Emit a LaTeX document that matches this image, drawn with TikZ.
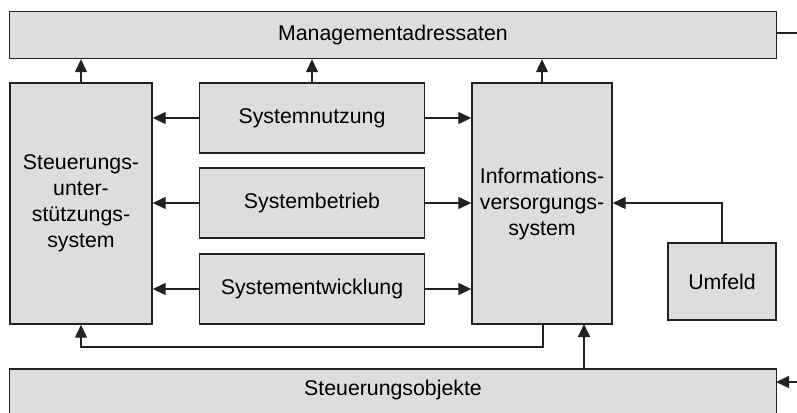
\documentclass[tikz,border=0pt]{standalone}
\usepackage{fontspec}
\setmainfont{Liberation Sans}
\usetikzlibrary{arrows.meta}
\definecolor{boxfill}{HTML}{DCDDDF}
\definecolor{linec}{HTML}{222222}
\tikzset{
  blk/.style={draw=linec, fill=boxfill, line width=1.4pt, inner sep=0pt, align=center,
    font=\fontsize{21.3}{26}\selectfont},
  conn/.style={draw=linec, line width=1.2pt, -{Triangle[length=13pt,width=12pt]}},
  plain/.style={draw=linec, line width=1.2pt}
}
\begin{document}
\begin{tikzpicture}[x=1pt,y=-1pt]
\useasboundingbox (0,0) rectangle (797,412);
\begin{scope}
\clip (0,0) rectangle (797,412);
\node[blk, minimum width=767pt, minimum height=47pt] (top) at (393,35) {Managementadressaten};
\node[blk, minimum width=767pt, minimum height=60pt] (bot) at (393,399) {};
\node[font=\fontsize{21.3}{26}\selectfont] (botl) at (393,390) {Steuerungsobjekte};
\end{scope}
\node[blk, minimum width=142pt, minimum height=241pt] (left) at (81,203.5) {Steuerungs-\\unter-\\stützungs-\\system};
\node[blk, minimum width=225pt, minimum height=70pt] (nutz) at (312,118) {Systemnutzung};
\node[blk, minimum width=225pt, minimum height=70pt] (betr) at (312,203) {Systembetrieb};
\node[blk, minimum width=225pt, minimum height=70pt] (entw) at (312,289) {Systementwicklung};
\node[blk, minimum width=140pt, minimum height=241pt] (info) at (542,203.5) {Informations-\\versorgungs-\\system};
\node[blk, minimum width=108pt, minimum height=77pt] (umf) at (722,281.5) {Umfeld};
\coordinate (rtop) at (797,33);
\coordinate (rbot) at (797,382);
\coordinate (c1) at (543,347);
\coordinate (c2) at (81,347);
\coordinate (u1) at (722,203);
% arrows to top
\draw[conn] (left.north) -- (left.north |- top.south);
\draw[conn] (nutz.north) -- (nutz.north |- top.south);
\draw[conn] (info.north) -- (info.north |- top.south);
% horizontal arrows
\draw[conn] (nutz.west) -- (left.east |- nutz.west);
\draw[conn] (nutz.east) -- (info.west |- nutz.east);
\draw[conn] (betr.west) -- (left.east |- betr.west);
\draw[conn] (betr.east) -- (info.west |- betr.east);
\draw[conn] (entw.west) -- (left.east |- entw.west);
\draw[conn] (entw.east) -- (info.west |- entw.east);
% feedback
\draw[conn] (c1 |- info.south) -- (c1) -- (c2) -- (left.south);
\draw[conn] (584,369) -- (584,324);
\draw[conn] (umf.north) -- (u1) -- (info.east |- u1);
\draw[plain] (top.east |- rtop) -- (rtop);
\draw[conn] (rbot) -- (776,382);
\end{tikzpicture}
\end{document}
